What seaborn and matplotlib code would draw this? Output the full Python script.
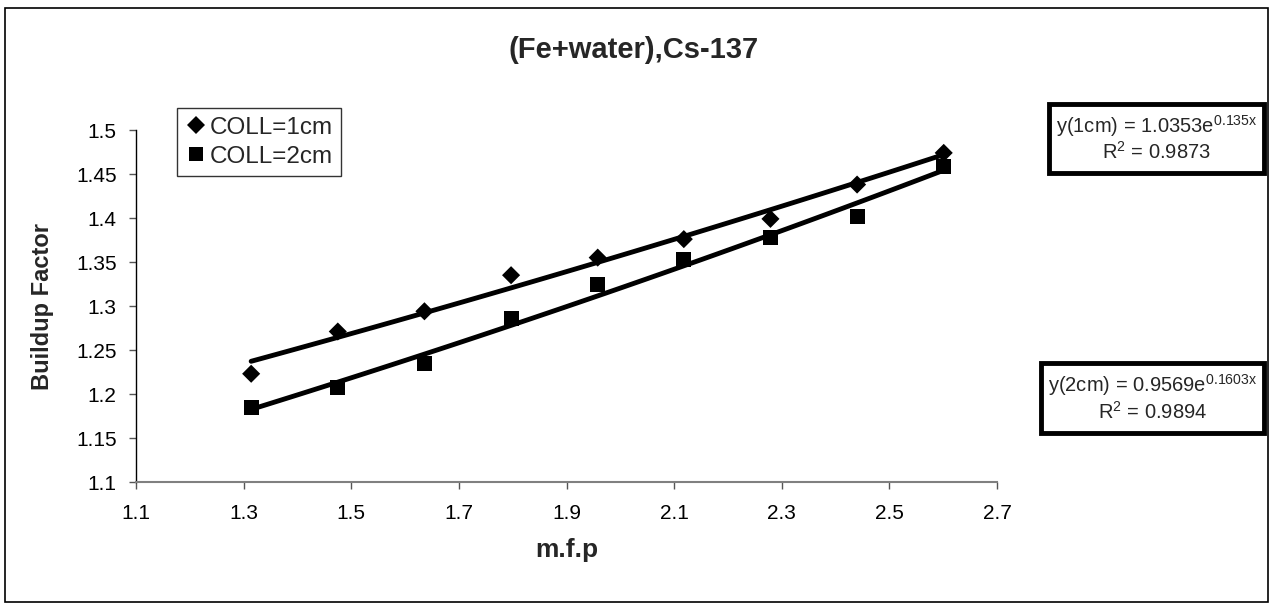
import numpy as np
import pandas as pd
import matplotlib
matplotlib.use("Agg")
import matplotlib.pyplot as plt
from matplotlib.patches import Rectangle
import seaborn as sns

# values
mfp = [1.314, 1.475, 1.636, 1.797, 1.958, 2.118, 2.279, 2.440, 2.601]
coll_1cm = [1.223, 1.271, 1.294, 1.335, 1.355, 1.376, 1.399, 1.438, 1.474]
coll_2cm = [1.185, 1.207, 1.235, 1.286, 1.324, 1.353, 1.378, 1.402, 1.459]

x_ticks = [1.1, 1.3, 1.5, 1.7, 1.9, 2.1, 2.3, 2.5, 2.7]
y_ticks = [1.1, 1.15, 1.2, 1.25, 1.3, 1.35, 1.4, 1.45, 1.5]
y_labels = ["1.1", "1.15", "1.2", "1.25", "1.3", "1.35", "1.4", "1.45", "1.5"]

eq_1cm = "y(1cm) = 1.0353e$^{0.135x}$"
r2_1cm = "R$^{2}$ = 0.9873"
eq_2cm = "y(2cm) = 0.9569e$^{0.1603x}$"
r2_2cm = "R$^{2}$ = 0.9894"

sns.set_theme(style="white")
plt.rcParams['font.family'] = ['Liberation Sans', 'DejaVu Sans']
plt.rcParams['mathtext.default'] = 'regular'

df = pd.DataFrame({"mfp": mfp * 2,
                   "B": coll_1cm + coll_2cm,
                   "series": ["COLL=1cm"] * len(mfp) + ["COLL=2cm"] * len(mfp)})


def exp_trend(x, y):
    # exponential trendline (least squares on log y), like Excel
    b, a = np.polyfit(x, np.log(y), 1)
    xs = np.linspace(min(x), max(x), 50)
    return pd.DataFrame({"mfp": xs, "B": np.exp(a) * np.exp(b * xs)})


fig = plt.figure(figsize=(12.7, 6.04), dpi=100)
ax = fig.add_axes([136 / 1270, 1 - 482 / 604, (997 - 136) / 1270, (482 - 130) / 604])

for x, y in [(mfp, coll_1cm), (mfp, coll_2cm)]:
    sns.lineplot(data=exp_trend(x, y), x="mfp", y="B", ax=ax, color="black",
                 linewidth=3.5, legend=False, zorder=2)

sns.scatterplot(data=df, x="mfp", y="B", hue="series", style="series",
                markers={"COLL=1cm": "D", "COLL=2cm": "s"},
                palette={"COLL=1cm": "black", "COLL=2cm": "black"},
                s=95, edgecolor="black", linewidth=0, ax=ax, zorder=3)
# diamonds a bit smaller than squares
ax.collections[-1].set_sizes([85] * len(mfp) + [115] * len(mfp))

ax.set_xlim(1.1, 2.7)
ax.set_ylim(1.1, 1.5)
ax.set_xticks(x_ticks)
ax.set_xticklabels([f"{v:g}" for v in x_ticks])
ax.set_yticks(y_ticks)
ax.set_yticklabels(y_labels)
ax.tick_params(axis="both", direction="out", length=5, width=1, labelsize=15,
               color="#555555", labelcolor="black", bottom=True, left=True)
ax.tick_params(axis="x", pad=11)
ax.tick_params(axis="y", pad=9)

for side in ["top", "right"]:
    ax.spines[side].set_visible(False)
ax.spines["left"].set_color("black")
ax.spines["left"].set_linewidth(1)
ax.spines["bottom"].set_color("#808080")
ax.spines["bottom"].set_linewidth(1.5)

ax.set_xlabel("m.f.p", fontsize=19, fontweight="bold")
ax.xaxis.set_label_coords(0.5, 1 - (538 - 130) / 352)
ax.set_ylabel("Buildup Factor", fontsize=17, fontweight="bold")
ax.yaxis.set_label_coords((54 - 136) / 861, 0.5)

# legend
handles, labels = ax.get_legend_handles_labels()
for h, lab in zip(handles, labels):
    h.set_markersize(9 if lab == "COLL=1cm" else 10.5)
leg = ax.legend(handles, labels, loc="upper left",
                bbox_to_anchor=((177 - 136) / 861, 1 + (130 - 108) / 352),
                frameon=True, fancybox=False, fontsize=17.5, handletextpad=0.1,
                handlelength=0.9, borderpad=0.35, labelspacing=0.3,
                borderaxespad=0)
leg.get_frame().set_edgecolor("black")
leg.get_frame().set_linewidth(1)

fig.text(634 / 1270, 1 - 50 / 604, "(Fe+water),Cs-137", ha="center", va="center",
         fontsize=21, fontweight="bold")


# equation boxes with thick black border
def eq_box(x0, y0, x1, y1, line1, line2):
    fig.patches.append(Rectangle((x0 / 1270, 1 - y1 / 604), (x1 - x0) / 1270,
                                 (y1 - y0) / 604, transform=fig.transFigure,
                                 fill=True, facecolor="white", edgecolor="black",
                                 linewidth=3.5, zorder=5))
    cx = (x0 + x1) / 2 / 1270
    fig.text(cx, 1 - (y0 + (y1 - y0) * 0.32) / 604, line1, ha="center",
             va="center", fontsize=14.5, zorder=6)
    fig.text(cx, 1 - (y0 + (y1 - y0) * 0.70) / 604, line2, ha="center",
             va="center", fontsize=14.5, zorder=6)


eq_box(1049, 104, 1264, 173, eq_1cm, r2_1cm)
eq_box(1041, 363, 1264, 433, eq_2cm, r2_2cm)

# outer chart border
fig.patches.append(Rectangle((5 / 1270, 1 - 602 / 604), 1263 / 1270, 594 / 604,
                             transform=fig.transFigure, fill=False,
                             edgecolor="black", linewidth=1.2, zorder=1))

fig.savefig("out.png", dpi=100)
